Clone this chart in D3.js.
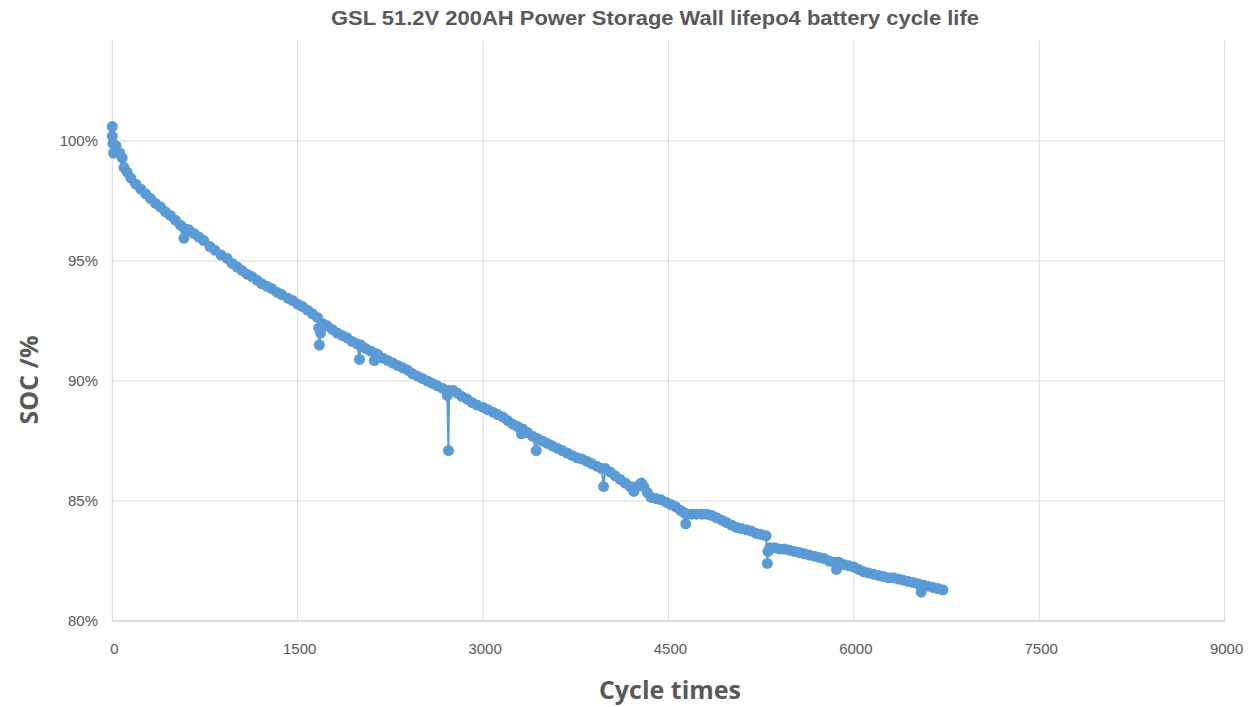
<!DOCTYPE html>
<html>
<head>
<meta charset="utf-8">
<script src="https://cdn.jsdelivr.net/npm/d3@7"></script>
<style>
  html, body { margin: 0; padding: 0; background: #fff; }
  svg { display: block; font-family: "Liberation Sans", Arial, sans-serif; }
</style>
</head>
<body>
<svg id="chart" width="1258" height="707"></svg>
<script>
const title = "GSL 51.2V 200AH Power Storage Wall lifepo4 battery cycle life";
const xTitle = "Cycle times";
const yTitle = "SOC /%";
const xTicks = [0, 1500, 3000, 4500, 6000, 7500, 9000];
const yTicks = [80, 85, 90, 95, 100];

const cycles = [
  0, 0, 5, 10, 30, 60, 80, 95, 120, 150, 190, 230, 270, 310, 350, 390, 430, 470, 510, 550,
  580, 585, 620, 660, 700, 740, 790, 830, 880, 930, 970, 1010, 1050, 1090, 1130, 1170, 1210, 1250, 1290, 1330,
  1370, 1420, 1460, 1500, 1540, 1580, 1620, 1660, 1670, 1675, 1685, 1700, 1740, 1780, 1820, 1860, 1900, 1940, 1980, 2000,
  2010, 2050, 2090, 2120, 2130, 2150, 2190, 2230, 2270, 2310, 2350, 2390, 2430, 2470, 2510, 2550, 2590, 2630, 2670, 2710,
  2720, 2725, 2760, 2790, 2830, 2870, 2910, 2950, 3000, 3040, 3080, 3120, 3160, 3200, 3240, 3280, 3310, 3320, 3360, 3400,
  3430, 3440, 3480, 3520, 3560, 3600, 3640, 3680, 3720, 3760, 3800, 3840, 3880, 3920, 3960, 3975, 3990, 4030, 4070, 4110,
  4150, 4190, 4220, 4240, 4280, 4300, 4330, 4360, 4400, 4440, 4480, 4520, 4560, 4600, 4630, 4640, 4650, 4690, 4730, 4770,
  4810, 4850, 4890, 4930, 4970, 5010, 5050, 5090, 5130, 5170, 5210, 5250, 5290, 5300, 5305, 5320, 5360, 5400, 5440, 5480,
  5520, 5560, 5600, 5640, 5680, 5720, 5760, 5800, 5840, 5860, 5880, 5920, 5960, 6000, 6040, 6080, 6120, 6160, 6200, 6240,
  6280, 6320, 6360, 6400, 6440, 6480, 6520, 6545, 6560, 6600, 6640, 6680, 6720
];
const soc = [
  100.6, 100.2, 99.9, 99.5, 99.8, 99.5, 99.3, 98.9, 98.7, 98.45, 98.2, 98.0, 97.8, 97.6, 97.4, 97.25, 97.05, 96.9, 96.7, 96.5,
  95.95, 96.35, 96.3, 96.15, 96.0, 95.85, 95.6, 95.45, 95.25, 95.1, 94.9, 94.75, 94.6, 94.45, 94.35, 94.2, 94.05, 93.95, 93.85, 93.7,
  93.6, 93.45, 93.35, 93.2, 93.1, 92.95, 92.8, 92.65, 92.2, 91.5, 92.0, 92.4, 92.3, 92.15, 92.0, 91.9, 91.8, 91.65, 91.55, 90.9,
  91.5, 91.35, 91.25, 90.85, 91.15, 91.1, 90.95, 90.85, 90.75, 90.65, 90.55, 90.45, 90.3, 90.2, 90.1, 90.0, 89.9, 89.8, 89.7, 89.4,
  87.1, 89.6, 89.6, 89.5, 89.35, 89.25, 89.1, 89.0, 88.9, 88.8, 88.7, 88.6, 88.5, 88.35, 88.2, 88.1, 87.8, 88.0, 87.85, 87.7,
  87.1, 87.6, 87.5, 87.4, 87.3, 87.2, 87.1, 87.0, 86.9, 86.8, 86.75, 86.65, 86.55, 86.45, 86.35, 85.6, 86.35, 86.2, 86.05, 85.9,
  85.75, 85.6, 85.4, 85.6, 85.75, 85.6, 85.35, 85.15, 85.1, 85.05, 84.95, 84.85, 84.75, 84.6, 84.5, 84.05, 84.45, 84.45, 84.45, 84.45,
  84.45, 84.4, 84.3, 84.2, 84.1, 84.0, 83.9, 83.85, 83.8, 83.75, 83.65, 83.6, 83.55, 82.4, 82.9, 83.05, 83.05, 83.0, 83.0, 82.95,
  82.9, 82.85, 82.8, 82.75, 82.7, 82.65, 82.6, 82.5, 82.45, 82.15, 82.45, 82.35, 82.3, 82.25, 82.15, 82.05, 82.0, 81.95, 81.9, 81.85,
  81.8, 81.8, 81.75, 81.7, 81.65, 81.6, 81.55, 81.2, 81.5, 81.45, 81.4, 81.35, 81.3
];

const data = cycles.map((c, i) => ({ c, v: soc[i] }));

const svg = d3.select("#chart");
const textColor = "#595959";
const gridColor = "#d9d9d9";
const blue = "#5b9bd5";

const x = d3.scaleLinear().domain([0, 9000]).range([112.3, 1224.6]);
const y = d3.scaleLinear().domain([80, 100]).range([621, 141]);
const yTop = y(104.2);

// gridlines
svg.append("g").selectAll("line.v").data(xTicks).join("line")
  .attr("x1", d => x(d)).attr("x2", d => x(d))
  .attr("y1", yTop).attr("y2", y(80))
  .attr("stroke", gridColor).attr("stroke-width", 1);
svg.append("g").selectAll("line.h").data(yTicks).join("line")
  .attr("x1", x(0)).attr("x2", x(9000))
  .attr("y1", d => y(d)).attr("y2", d => y(d))
  .attr("stroke", d => d === 80 ? "#cfcfcf" : gridColor).attr("stroke-width", d => d === 80 ? 1.3 : 1);

// tick labels
svg.append("g").selectAll("text").data(yTicks).join("text")
  .attr("x", 98).attr("y", d => y(d) + 5)
  .attr("text-anchor", "end")
  .attr("font-size", 15).attr("fill", textColor)
  .text(d => d + "%");
svg.append("g").selectAll("text").data(xTicks).join("text")
  .attr("x", d => x(d) + 2).attr("y", 654)
  .attr("text-anchor", "middle")
  .attr("font-size", 15).attr("fill", textColor)
  .text(d => d);

// line + markers
const line = d3.line().x(d => x(d.c)).y(d => y(d.v));
svg.append("path").datum(data)
  .attr("d", line)
  .attr("fill", "none").attr("stroke", blue).attr("stroke-width", 2);
svg.append("g").selectAll("circle").data(data).join("circle")
  .attr("cx", d => x(d.c)).attr("cy", d => y(d.v))
  .attr("r", 5.5).attr("fill", blue);

// titles
svg.append("text")
  .attr("x", 655).attr("y", 25)
  .attr("text-anchor", "middle")
  .attr("font-size", 20).attr("font-weight", "bold").attr("fill", textColor)
  .attr("textLength", 648).attr("lengthAdjust", "spacingAndGlyphs")
  .text(title);
svg.append("text")
  .attr("x", 670).attr("y", 699)
  .attr("text-anchor", "middle")
  .attr("font-size", 25).attr("font-weight", "bold").attr("fill", textColor)
  .attr("font-family", "'Open Sans', 'Liberation Sans', sans-serif")
  .text(xTitle);
svg.append("text")
  .attr("transform", "translate(38,380) rotate(-90)")
  .attr("text-anchor", "middle")
  .attr("font-size", 25).attr("font-weight", "bold").attr("fill", textColor)
  .attr("font-family", "'Open Sans', 'Liberation Sans', sans-serif")
  .text(yTitle);
</script>
</body>
</html>
